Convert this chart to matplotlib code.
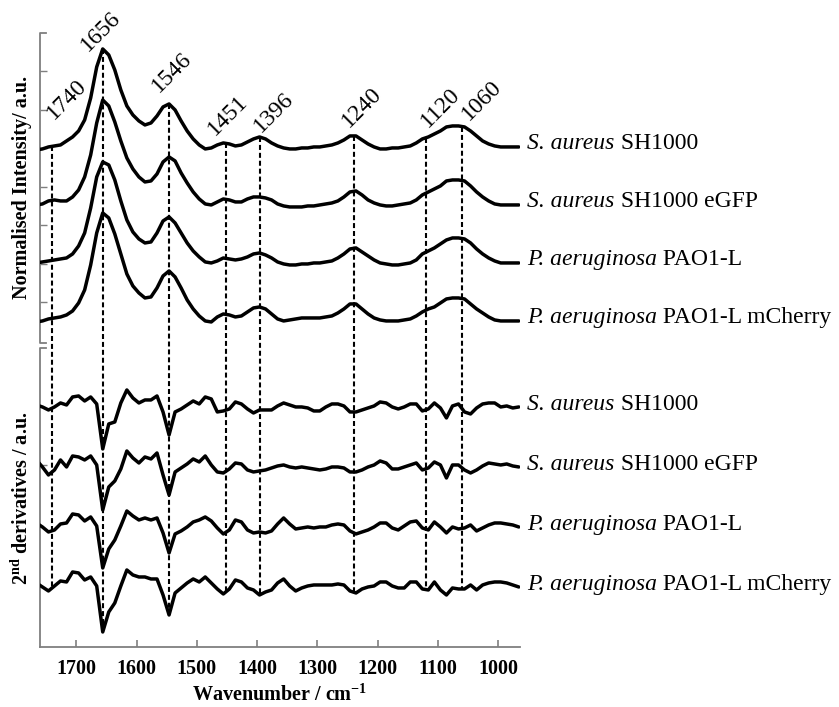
"""
plot.py - FTIR spectra of S. aureus / P. aeruginosa strains
top: normalised absorbance, bottom: 2nd derivatives
"""

import matplotlib
matplotlib.use("Agg")

import matplotlib.pyplot as plt
import matplotlib.transforms as mtransforms
import numpy as np

plt.rcParams["font.family"] = ["Liberation Serif", "DejaVu Serif"]
plt.rcParams["mathtext.fontset"] = "custom"
plt.rcParams["mathtext.rm"] = "Liberation Serif"
plt.rcParams["mathtext.it"] = "Liberation Serif:italic"
plt.rcParams["mathtext.bf"] = "Liberation Serif:bold"

# ── data ───────────────────────────────────────────────
wavenumber = np.arange(1766, 965, -10)  # cm-1, 1766 ... 966

species = ["S. aureus", "S. aureus", "P. aeruginosa", "P. aeruginosa"]
strains = ["SH1000", "SH1000 eGFP", "PAO1-L", "PAO1-L mCherry"]

peaks = [1740, 1656, 1546, 1451, 1396, 1240, 1120, 1060]

# normalised absorbance (amide I ~ 1)
abs_sa = [
    0.00, 0.01, 0.03, 0.04, 0.05, 0.09, 0.13, 0.19, 0.30, 0.52,
    0.83, 1.01, 0.95, 0.80, 0.60, 0.44, 0.35, 0.29, 0.25, 0.27,
    0.34, 0.43, 0.46, 0.40, 0.29, 0.19, 0.11, 0.05, 0.01, 0.02,
    0.05, 0.07, 0.06, 0.04, 0.05, 0.08, 0.11, 0.13, 0.11, 0.07,
    0.04, 0.02, 0.01, 0.01, 0.02, 0.02, 0.03, 0.03, 0.04, 0.05,
    0.07, 0.10, 0.14, 0.14, 0.10, 0.06, 0.03, 0.01, 0.01, 0.02,
    0.02, 0.03, 0.04, 0.07, 0.11, 0.13, 0.16, 0.19, 0.23, 0.24,
    0.24, 0.23, 0.19, 0.14, 0.09, 0.06, 0.04, 0.03, 0.03, 0.03,
    0.03,
]
abs_sa_gfp = [
    0.02, 0.03, 0.06, 0.07, 0.06, 0.06, 0.10, 0.17, 0.30, 0.52,
    0.84, 1.07, 1.01, 0.85, 0.66, 0.49, 0.38, 0.30, 0.25, 0.26,
    0.33, 0.45, 0.50, 0.46, 0.34, 0.24, 0.15, 0.08, 0.03, 0.02,
    0.05, 0.08, 0.07, 0.05, 0.05, 0.08, 0.10, 0.10, 0.09, 0.07,
    0.03, 0.01, 0.00, 0.00, 0.00, 0.01, 0.01, 0.02, 0.03, 0.04,
    0.06, 0.10, 0.15, 0.16, 0.12, 0.07, 0.04, 0.02, 0.01, 0.01,
    0.02, 0.03, 0.04, 0.07, 0.12, 0.15, 0.18, 0.21, 0.26, 0.27,
    0.27, 0.26, 0.21, 0.15, 0.10, 0.06, 0.03, 0.02, 0.02, 0.02,
    0.02,
]
abs_pa = [
    0.01, 0.02, 0.03, 0.04, 0.05, 0.06, 0.10, 0.18, 0.31, 0.56,
    0.87, 1.02, 0.99, 0.84, 0.63, 0.44, 0.32, 0.25, 0.21, 0.22,
    0.31, 0.43, 0.47, 0.41, 0.31, 0.21, 0.13, 0.07, 0.02, 0.01,
    0.03, 0.06, 0.05, 0.04, 0.05, 0.07, 0.10, 0.11, 0.09, 0.06,
    0.02, 0.00, -0.01, -0.01, 0.00, 0.00, 0.01, 0.01, 0.02, 0.03,
    0.06, 0.10, 0.15, 0.16, 0.12, 0.08, 0.04, 0.01, 0.00, -0.01,
    -0.01, 0.00, 0.01, 0.04, 0.10, 0.13, 0.16, 0.20, 0.24, 0.26,
    0.26, 0.25, 0.21, 0.15, 0.10, 0.06, 0.03, 0.01, 0.01, 0.01,
    0.01,
]
abs_pa_mch = [
    0.00, 0.01, 0.03, 0.04, 0.05, 0.07, 0.11, 0.19, 0.32, 0.57,
    0.89, 1.09, 1.04, 0.88, 0.68, 0.48, 0.36, 0.29, 0.24, 0.25,
    0.34, 0.46, 0.51, 0.45, 0.34, 0.22, 0.13, 0.06, 0.01, 0.00,
    0.05, 0.08, 0.07, 0.05, 0.06, 0.10, 0.14, 0.15, 0.13, 0.08,
    0.03, 0.01, 0.02, 0.03, 0.04, 0.04, 0.04, 0.04, 0.05, 0.06,
    0.09, 0.13, 0.18, 0.18, 0.13, 0.08, 0.04, 0.02, 0.01, 0.01,
    0.01, 0.02, 0.03, 0.06, 0.10, 0.13, 0.15, 0.19, 0.23, 0.24,
    0.24, 0.23, 0.18, 0.13, 0.09, 0.05, 0.02, 0.01, 0.01, 0.01,
    0.01,
]

# 2nd derivatives (a.u.)
d2_sa = [
    0.00, -0.02, -0.05, -0.02, 0.02, 0.00, 0.08, 0.09, 0.04, 0.08,
    0.01, -0.44, -0.19, -0.17, 0.02, 0.15, 0.07, 0.02, 0.05, 0.05,
    0.09, -0.07, -0.30, -0.07, -0.04, 0.00, 0.04, 0.01, 0.08, 0.06,
    -0.07, -0.06, -0.04, 0.03, 0.01, -0.04, -0.08, -0.05, -0.05, -0.05,
    -0.01, 0.02, 0.00, -0.02, -0.02, -0.03, -0.06, -0.06, -0.02, 0.01,
    0.01, -0.01, -0.07, -0.07, -0.05, -0.03, -0.01, 0.03, 0.02, -0.02,
    -0.04, -0.02, 0.01, 0.01, -0.06, -0.04, 0.02, -0.03, -0.13, -0.01,
    0.01, -0.07, -0.09, -0.03, 0.01, 0.02, 0.02, -0.02, -0.01, -0.03,
    -0.02,
]
d2_sa_gfp = [
    0.03, -0.04, -0.12, -0.07, 0.03, -0.04, 0.07, 0.06, 0.03, 0.07,
    -0.02, -0.47, -0.24, -0.18, -0.06, 0.12, 0.05, 0.00, 0.06, 0.04,
    0.10, -0.12, -0.32, -0.09, -0.05, -0.01, 0.04, 0.01, 0.07, -0.02,
    -0.09, -0.10, -0.06, 0.00, -0.01, -0.07, -0.09, -0.08, -0.07, -0.05,
    -0.03, -0.02, -0.04, -0.05, -0.04, -0.05, -0.06, -0.07, -0.06, -0.04,
    -0.04, -0.05, -0.09, -0.09, -0.07, -0.04, -0.02, 0.02, 0.00, -0.06,
    -0.06, -0.04, -0.02, 0.00, -0.07, -0.05, 0.01, -0.02, -0.15, -0.02,
    -0.02, -0.07, -0.10, -0.07, -0.03, 0.00, -0.01, -0.02, -0.01, -0.03,
    -0.04,
]
d2_pa = [
    0.02, -0.02, -0.07, -0.05, 0.01, 0.02, 0.11, 0.10, 0.04, 0.08,
    -0.01, -0.43, -0.24, -0.15, -0.01, 0.14, 0.09, 0.05, 0.07, 0.05,
    0.07, -0.08, -0.28, -0.09, -0.06, -0.02, 0.03, 0.05, 0.08, 0.04,
    -0.03, -0.09, -0.05, 0.05, 0.03, -0.05, -0.08, -0.07, -0.08, -0.06,
    0.01, 0.07, 0.01, -0.04, -0.03, -0.02, -0.03, -0.02, -0.02, 0.00,
    0.01, 0.00, -0.06, -0.09, -0.07, -0.05, -0.02, 0.02, 0.02, -0.03,
    -0.05, -0.01, 0.03, 0.04, -0.03, -0.05, 0.03, -0.02, -0.08, -0.02,
    -0.04, -0.03, 0.00, -0.06, -0.03, 0.00, 0.02, 0.02, 0.01, 0.00,
    -0.02,
]
d2_pa_mch = [
    0.00, -0.04, -0.08, -0.03, 0.02, 0.01, 0.11, 0.10, 0.03, 0.06,
    -0.03, -0.49, -0.29, -0.20, -0.03, 0.13, 0.08, 0.06, 0.06, 0.04,
    0.04, -0.12, -0.32, -0.10, -0.05, 0.00, 0.04, 0.01, 0.06, 0.00,
    -0.06, -0.11, -0.06, 0.03, 0.01, -0.05, -0.07, -0.12, -0.09, -0.07,
    0.00, 0.04, -0.03, -0.08, -0.05, -0.03, -0.02, -0.02, -0.02, -0.02,
    -0.01, -0.02, -0.08, -0.10, -0.06, -0.04, -0.03, 0.01, 0.01, -0.03,
    -0.05, -0.05, 0.01, 0.01, -0.06, -0.07, 0.01, -0.07, -0.12, -0.05,
    -0.06, -0.06, -0.02, -0.07, -0.02, 0.00, 0.01, 0.01, 0.00, -0.02,
    -0.04,
]

absorbance = [abs_sa, abs_sa_gfp, abs_pa, abs_pa_mch]
derivs = [d2_sa, d2_sa_gfp, d2_pa, d2_pa_mch]

# ── layout ─────────────────────────────────────────────
abs_offsets = [5.57, 5.00, 4.43, 3.85]
der_offsets = [3.02, 2.44, 1.82, 1.24]
# peak label offsets (pixels) from the top spectrum
peak_label_offsets = [(15, 47), (-2, 17), (3, 32), (1, 28),
                      (14, 25), (8, 29), (14, 30), (20, 26)]

AXIS_GREY = "#7f7f7f"
LW = 2.5
LABEL_FS = 17

fig = plt.figure(figsize=(8.39, 7.07), dpi=100)
ax = fig.add_axes([0.0477, 0.0849, 0.5721, 0.8685])

x = wavenumber
lab_tr = mtransforms.blended_transform_factory(ax.transAxes, ax.transData)


def sample_label(y, sp, st):
    # italic species name followed by upright strain name
    t = ax.text(1.015, y, sp, transform=lab_tr, fontsize=LABEL_FS,
                style="italic", ha="left", va="center", clip_on=False)
    ax.annotate(" " + st, xy=(1, 0.5), xycoords=t, fontsize=LABEL_FS,
                ha="left", va="center", annotation_clip=False)


for vals, off, sp, st in zip(absorbance, abs_offsets, species, strains):
    y = off + np.array(vals)
    ax.plot(x, y, color="black", linewidth=LW, solid_joinstyle="round",
            solid_capstyle="round", zorder=3)
    sample_label(y[-1] + 0.03, sp, st)

for vals, off, sp, st in zip(derivs, der_offsets, species, strains):
    y = off + np.array(vals)
    ax.plot(x, y, color="black", linewidth=LW, solid_joinstyle="round",
            solid_capstyle="round", zorder=3)
    sample_label(y[-1] + 0.02, sp, st)

# dashed peak markers: top spectrum -> bottom derivative
top = abs_offsets[0] + np.array(absorbance[0])
bottom = der_offsets[-1] + np.array(derivs[-1])
for p, (dx, dy) in zip(peaks, peak_label_offsets):
    y_top = np.interp(p, x[::-1], top[::-1])
    y_bot = np.interp(p, x[::-1], bottom[::-1])
    ax.plot([p, p], [y_top, y_bot], color="black", linewidth=1.5,
            linestyle=(0, (2.4, 1.4)), zorder=2)
    ax.annotate(str(p), xy=(p, y_top), xytext=(dx, dy),
                textcoords="offset pixels", rotation=45, fontsize=17,
                ha="center", va="center", annotation_clip=False)

ax.set_xlim(1760, 964)
ax.set_ylim(0.60, 6.74)

# axes styling
for side in ["top", "right", "left"]:
    ax.spines[side].set_visible(False)
ax.spines["bottom"].set_color(AXIS_GREY)
ax.spines["bottom"].set_linewidth(1.3)

ax.set_xticks([1700, 1600, 1500, 1400, 1300, 1200, 1100, 1000])
ax.tick_params(axis="x", direction="in", length=5, width=1.2, color=AXIS_GREY,
               labelsize=14.5, pad=9)
for t in ax.get_xticklabels():
    t.set_fontweight("bold")

# left brackets (two y-axis segments)
ax.plot([0.012, 0, 0, 0.012], [1.0, 1.0, 0.495, 0.495], transform=ax.transAxes,
        color=AXIS_GREY, linewidth=1.3, clip_on=False)
ax.plot([0.012, 0, 0], [0.487, 0.487, 0.0], transform=ax.transAxes,
        color=AXIS_GREY, linewidth=1.3, clip_on=False)
ax.set_yticks([6.355, 5.97, 5.585, 5.2, 4.815, 4.43, 4.045, 2.42])
ax.tick_params(axis="y", direction="in", length=5, width=1.0, color=AXIS_GREY,
               labelleft=False)

ax.set_xlabel(r"Wavenumber / cm$^{\mathbf{-1}}$", fontsize=14.5,
              fontweight="bold", labelpad=4)
fig.text(0.026, 0.7355, "Normalised Intensity/ a.u.", rotation=90,
         fontsize=14.5, fontweight="bold", ha="center", va="center")
fig.text(0.026, 0.2956, r"2$^{\mathbf{nd}}$ derivatives / a.u.", rotation=90,
         fontsize=14.5, fontweight="bold", ha="center", va="center")

fig.savefig("out.png", dpi=100, facecolor="white")
plt.close(fig)
